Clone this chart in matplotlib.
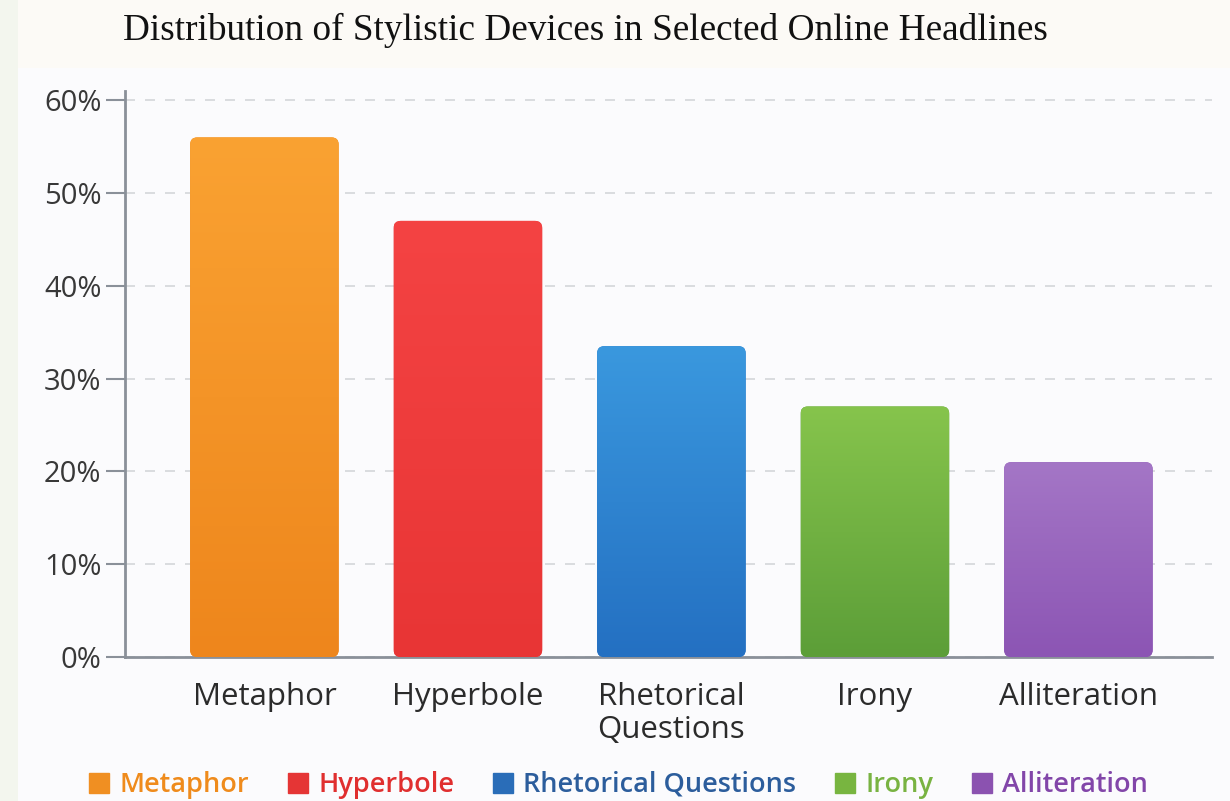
import matplotlib
matplotlib.use("Agg")
import matplotlib.pyplot as plt
import numpy as np
from matplotlib.patches import FancyBboxPatch, Rectangle
from matplotlib.lines import Line2D
from matplotlib.ticker import FuncFormatter

# ---- data ----
categories = ["Metaphor", "Hyperbole", "Rhetorical\nQuestions", "Irony", "Alliteration"]
legend_labels = ["Metaphor", "Hyperbole", "Rhetorical Questions", "Irony", "Alliteration"]
values = [56, 47, 33.5, 27, 21]
yticks = [0, 10, 20, 30, 40, 50, 60]
title = "Distribution of Stylistic Devices in Selected Online Headlines"

# ---- styles ----
top_colors = ["#faa232", "#f44343", "#3a98de", "#86c44c", "#a476c6"]
bot_colors = ["#ee861c", "#e83535", "#2470c2", "#5c9e38", "#8c55b4"]
legend_text_colors = ["#ef8b1c", "#e02f2f", "#2c5d9c", "#79b342", "#8246a9"]
legend_patch_colors = ["#f08f22", "#e53535", "#2a6db8", "#78b540", "#8b52b0"]

W, H = 1230, 801
fig = plt.figure(figsize=(W / 100, H / 100), dpi=100)
fig.patch.set_facecolor("#fcfaf6")
fig.add_artist(Rectangle((0, 0), 18 / W, 1, transform=fig.transFigure,
                         facecolor="#f3f6ee", edgecolor="none", zorder=0))
fig.add_artist(Rectangle((18 / W, 0), 1 - 18 / W, 1 - 68 / H,
                         transform=fig.transFigure, facecolor="#fbfbfd",
                         edgecolor="none", zorder=0))

ax_left, ax_right = 125, 1212
ax = fig.add_axes([ax_left / W, 144 / H, (ax_right - ax_left) / W, 566 / H])
ax.set_facecolor("none")

x = np.arange(len(categories))
bars = ax.bar(x, values, width=0.73, color="none", edgecolor="none", zorder=3)

xlim = (-0.685, -0.685 + (ax_right - ax_left) / 203.5)
ax.set_xlim(*xlim)
ax.set_ylim(0, 61)

for b, ct, cb in zip(bars, top_colors, bot_colors):
    x0, y0 = b.get_x(), b.get_y()
    w, h = b.get_width(), b.get_height()
    patch = FancyBboxPatch((x0, y0), w, h,
                           boxstyle="round,pad=0,rounding_size=0.035",
                           mutation_aspect=22, facecolor=cb, edgecolor="none",
                           zorder=3)
    ax.add_patch(patch)
    c1 = np.array(matplotlib.colors.to_rgb(ct))
    c2 = np.array(matplotlib.colors.to_rgb(cb))
    t = np.linspace(0, 1, 100)[:, None]
    grad = (c2 * (1 - t) + c1 * t)[:, None, :]
    im = ax.imshow(grad, extent=(x0, x0 + w, y0, y0 + h), origin="lower",
                   aspect="auto", zorder=4, interpolation="bilinear")
    im.set_clip_path(patch)

ax.set_xlim(*xlim)
ax.set_ylim(0, 61)

ax.set_yticks(yticks)
ax.yaxis.set_major_formatter(FuncFormatter(lambda v, p: f"{int(v)}%"))
ax.set_xticks(x)
ax.set_xticklabels(categories, fontsize=22.5, color="#2b2b2b", family="Open Sans",
                   linespacing=1.15)
ax.tick_params(axis="x", length=0, pad=18)
ax.tick_params(axis="y", length=14, width=1.5, color="#8a9099", labelsize=21,
               labelcolor="#383838", pad=3)
for lab in ax.get_yticklabels():
    lab.set_family("Open Sans")

ax.grid(axis="y", linestyle=(0, (6, 6)), color="#d4d6da", linewidth=1.2, zorder=1)
ax.set_axisbelow(True)
for s in ["top", "right"]:
    ax.spines[s].set_visible(False)
ax.spines["left"].set_color("#8a9099")
ax.spines["left"].set_linewidth(2)
ax.spines["bottom"].set_color("#8a9099")
ax.spines["bottom"].set_linewidth(2)

fig.text(585 / W, 1 - 30 / H, title, ha="center", va="center",
         fontsize=26.8, family="Liberation Serif", color="#111111")

handles = [Line2D([], [], marker="s", linestyle="none", markersize=14,
                  markerfacecolor=c, markeredgecolor=c) for c in legend_patch_colors]
leg = fig.legend(handles, legend_labels, loc="center", ncol=5,
                 bbox_to_anchor=(617 / W, 1 - 785 / H), frameon=False,
                 prop={"family": "Open Sans", "size": 19.5, "weight": "semibold"},
                 handletextpad=0.25, columnspacing=1.3, handlelength=1.0)
for txt, c in zip(leg.get_texts(), legend_text_colors):
    txt.set_color(c)

fig.savefig("out.png", dpi=100, facecolor=fig.get_facecolor())
